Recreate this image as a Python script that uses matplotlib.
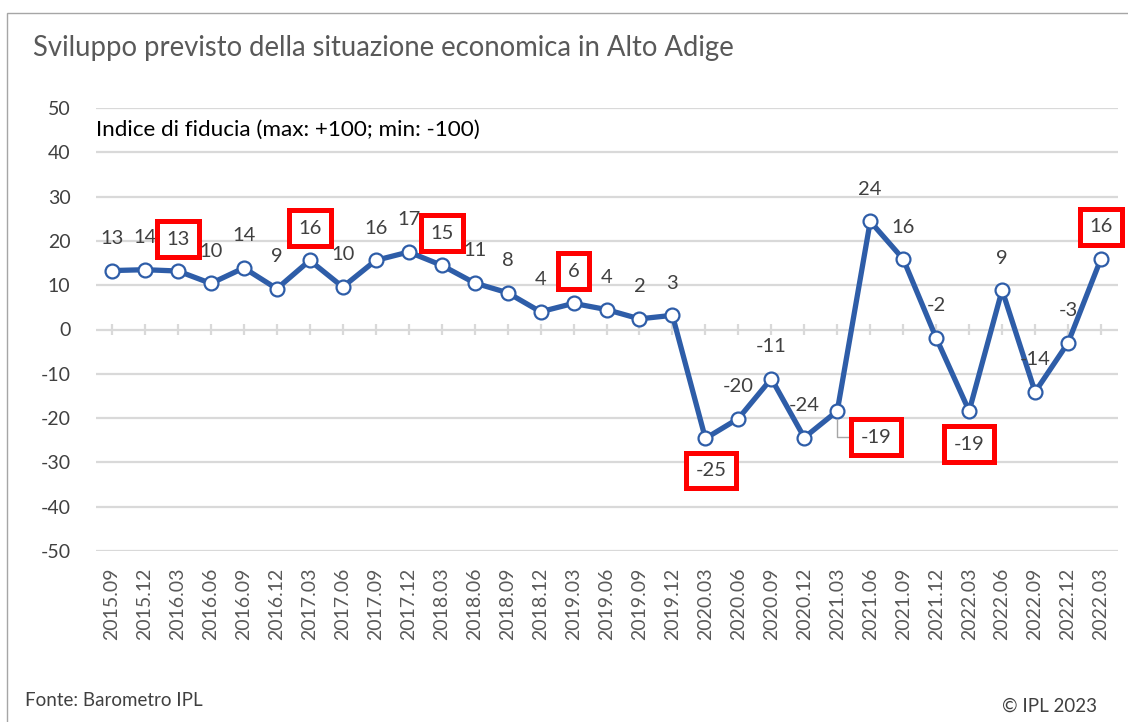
import matplotlib
matplotlib.use("Agg")
import matplotlib.pyplot as plt
from matplotlib.patches import Rectangle

# ---- data ----
categories = ["2015.09", "2015.12", "2016.03", "2016.06", "2016.09", "2016.12",
              "2017.03", "2017.06", "2017.09", "2017.12", "2018.03", "2018.06",
              "2018.09", "2018.12", "2019.03", "2019.06", "2019.09", "2019.12",
              "2020.03", "2020.06", "2020.09", "2020.12", "2021.03", "2021.06",
              "2021.09", "2021.12", "2022.03", "2022.06", "2022.09", "2022.12",
              "2022.03"]
values = [13.3, 13.5, 13.2, 10.4, 13.9, 9.2, 15.6, 9.6, 15.6, 17.5, 14.5, 10.5,
          8.3, 4.0, 5.9, 4.5, 2.4, 3.2, -24.6, -20.1, -11.1, -24.4, -18.4, 24.4,
          15.9, -1.9, -18.4, 8.9, -14.1, -3.0, 16.0]
labels = ["13", "14", "13", "10", "14", "9", "16", "10", "16", "17", "15", "11",
          "8", "4", "6", "4", "2", "3", "-25", "-20", "-11", "-24", "-19", "24",
          "16", "-2", "-19", "9", "-14", "-3", "16"]
highlighted = [2, 6, 10, 14, 18, 22, 26, 30]
y_ticks = [-50, -40, -30, -20, -10, 0, 10, 20, 30, 40, 50]

# ---- style ----
FONT = ["Lato", "DejaVu Sans"]
plt.rcParams['font.family'] = FONT
BLUE = "#2E5DA8"
GRID = "#D9D9D9"
TXT = "#404040"
# label placement (pixels): default above
label_offsets = {i: (0, 32) for i in range(len(values))}
label_offsets[18] = (6, -32)
label_offsets[26] = (0, -33)
label_offsets[22] = (39, -26)
callouts = [22]

W, H = 1128, 722
fig = plt.figure(figsize=(W / 100, H / 100), dpi=100)
ax = fig.add_axes([95.5 / W, 1 - 551 / H, 1022 / W, 443 / H])

# frame around chart
fig.patches.append(Rectangle((7 / W, -0.05), 1.2, 1 - 13 / H + 0.05,
                             transform=fig.transFigure, fill=False,
                             edgecolor="#A6A6A6", linewidth=1.0))

x = list(range(len(values)))
ax.set_xlim(-0.5, len(values) - 0.5)
ax.set_ylim(-50, 50)
for yv in y_ticks:
    ax.axhline(yv, color=GRID, linewidth=1.6, zorder=0)
ax.vlines(x, -1.2, 1.2, color=GRID, linewidth=1.6, zorder=0)

ax.plot(x, values, color=BLUE, linewidth=3.8, marker="o", markersize=10,
        markerfacecolor="white", markeredgecolor=BLUE, markeredgewidth=1.6,
        zorder=3, solid_joinstyle="round")

for i, (v, lab) in enumerate(zip(values, labels)):
    dx, dy = label_offsets[i]
    kw = {}
    if i in highlighted:
        kw["bbox"] = dict(boxstyle="square,pad=0.47", facecolor="white",
                          edgecolor="#FF0000", linewidth=3.6)
    if i in callouts:
        kw["arrowprops"] = dict(arrowstyle="-", color="#A6A6A6", linewidth=1.0,
                                connectionstyle="angle,angleA=0,angleB=90,rad=0",
                                shrinkA=0, shrinkB=6)
    ax.annotate(lab, (i, v), xytext=(dx, dy), textcoords="offset pixels",
                ha="center", va="center", fontsize=14.5, color=TXT, zorder=4, **kw)

for s in ax.spines.values():
    s.set_visible(False)
ax.set_yticks(y_ticks)
ax.set_yticklabels([str(t) for t in y_ticks], fontsize=14, color=TXT)
ax.set_xticks(x)
ax.set_xticklabels(categories, rotation=90, fontsize=14, color="#595959")
ax.tick_params(axis="both", length=0)
ax.tick_params(axis="y", pad=18)
ax.tick_params(axis="x", pad=12)

ax.text(0.0, 0.95, "Indice di fiducia (max: +100; min: -100)", transform=ax.transAxes,
        fontsize=16.2, color="black", ha="left", va="center")

fig.text(33 / W, 1 - 48 / H, "Sviluppo previsto della situazione economica in Alto Adige",
         fontsize=19.8, color="#595959", ha="left", va="center")
fig.text(25 / W, 1 - 700 / H, "Fonte: Barometro IPL", fontsize=13.5, color=TXT,
         ha="left", va="center")
fig.text(1097 / W, 1 - 706 / H, "© IPL 2023", fontsize=13.5, color=TXT,
         ha="right", va="center")

fig.savefig("out.png", dpi=100, facecolor="white")
